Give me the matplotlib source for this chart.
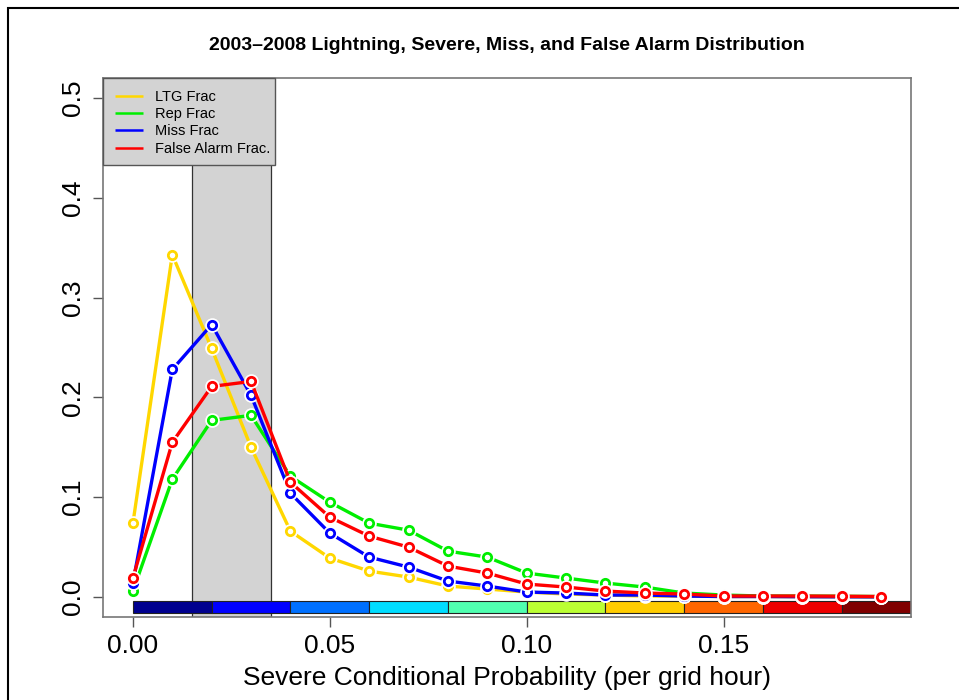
import matplotlib
matplotlib.use("Agg")
import matplotlib.pyplot as plt
from matplotlib.patches import Rectangle
import numpy as np

plt.rcParams['font.family'] = ['Liberation Sans', 'DejaVu Sans']

x_vals = [0.00, 0.01, 0.02, 0.03, 0.04, 0.05, 0.06, 0.07, 0.08, 0.09,
          0.10, 0.11, 0.12, 0.13, 0.14, 0.15, 0.16, 0.17, 0.18, 0.19]
ltg_frac = [0.074, 0.343, 0.249, 0.150, 0.066, 0.039, 0.026, 0.020, 0.011, 0.008,
            0.005, 0.003, 0.002, 0.001, 0.001, 0.0005, 0.0005, 0.0003, 0.0002, 0.0002]
rep_frac = [0.006, 0.118, 0.177, 0.182, 0.121, 0.095, 0.074, 0.067, 0.046, 0.040,
            0.024, 0.019, 0.014, 0.010, 0.004, 0.002, 0.001, 0.001, 0.0008, 0.0005]
miss_frac = [0.014, 0.228, 0.273, 0.202, 0.104, 0.064, 0.040, 0.030, 0.016, 0.011,
             0.005, 0.004, 0.002, 0.002, 0.001, 0.0005, 0.0005, 0.0003, 0.0002, 0.0002]
fa_frac = [0.019, 0.155, 0.211, 0.216, 0.115, 0.080, 0.061, 0.050, 0.031, 0.024,
           0.013, 0.010, 0.006, 0.004, 0.003, 0.001, 0.001, 0.001, 0.0008, 0.0005]

series_names = ["LTG Frac", "Rep Frac", "Miss Frac", "False Alarm Frac."]
series_colors = ["#FFD700", "#00EE00", "#0000FF", "#FF0000"]
series_values = [ltg_frac, rep_frac, miss_frac, fa_frac]

shade_range = [0.015, 0.035]
bar_edges = [0.00, 0.02, 0.04, 0.06, 0.08, 0.10, 0.12, 0.14, 0.16, 0.18, 0.20]
bar_colors = ["#00008F", "#0000FF", "#0070FF", "#00DDFF", "#50FFB0",
              "#BBFF33", "#FFCC00", "#FF6600", "#EE0000", "#800000"]

xticks = [0.00, 0.05, 0.10, 0.15]
yticks = [0.0, 0.1, 0.2, 0.3, 0.4, 0.5]

fig = plt.figure(figsize=(9.59, 7.0), dpi=100)
ax = fig.add_axes([103/959, 1 - 617/700, (911 - 103)/959, (617 - 78)/700])

# outer figure frame (left/top visible)
fig.patches.append(Rectangle((8/959, -0.05), 1.2, 1 - 8/700 + 0.05,
                             transform=fig.transFigure, fill=False,
                             edgecolor='black', linewidth=1.5, zorder=0))

ax.set_xlim(-0.0076, 0.1976)
ax.set_ylim(-0.02, 0.52)

# shaded region
ax.add_patch(Rectangle((shade_range[0], -0.02), shade_range[1] - shade_range[0], 0.54,
                       facecolor='#D3D3D3', edgecolor='#333333', linewidth=0.9, zorder=1))

# color bar
for i, c in enumerate(bar_colors):
    ax.add_patch(Rectangle((bar_edges[i], -0.016), bar_edges[i + 1] - bar_edges[i], 0.012,
                           facecolor=c, edgecolor='#222222', linewidth=0.8, zorder=2,
                           clip_on=True))

for name, col, vals in zip(series_names, series_colors, series_values):
    ax.plot(x_vals, vals, color=col, linewidth=2.4, zorder=3, label=name,
            solid_capstyle='butt')
    ax.plot(x_vals, vals, linestyle='none', marker='o', markersize=9.5,
            markerfacecolor='white', markeredgecolor='white', zorder=3)
    ax.plot(x_vals, vals, linestyle='none', marker='o', markersize=6,
            markerfacecolor='white', markeredgecolor=col, markeredgewidth=2, zorder=3)

# legend box drawn manually
ax.add_patch(Rectangle((0, 1 - 87/539), 172/808, 87/539, transform=ax.transAxes,
                       facecolor='#D3D3D3', edgecolor='#555555', linewidth=1.0,
                       zorder=4, clip_on=False))
leg = ax.legend(loc='upper left', bbox_to_anchor=(12/808, 1 - 12/539), borderaxespad=0,
                fontsize=10.5, frameon=False, handlelength=1.9,
                handletextpad=0.85, labelspacing=0.22, borderpad=0)
leg.set_zorder(5)
for line in leg.get_lines():
    line.set_linewidth(1.8)

ax.set_xticks(xticks)
ax.set_xticklabels([f"{t:.2f}" for t in xticks], fontsize=19)
ax.set_yticks(yticks)
ax.set_yticklabels([f"{t:.1f}" for t in yticks], fontsize=19, rotation=90, va='center')
ax.tick_params(axis='both', direction='out', length=7, color='#555555', width=1)
ax.tick_params(axis='x', pad=5)
ax.tick_params(axis='y', pad=6)
for s in ax.spines.values():
    s.set_color('#777777')
    s.set_linewidth(1.2)

ax.set_xlabel("Severe Conditional Probability (per grid hour)", fontsize=19, labelpad=6)
ax.set_title("2003\u20132008 Lightning, Severe, Miss, and False Alarm Distribution",
             fontsize=14, fontweight='bold', pad=20)

fig.savefig("out.png", dpi=100)
